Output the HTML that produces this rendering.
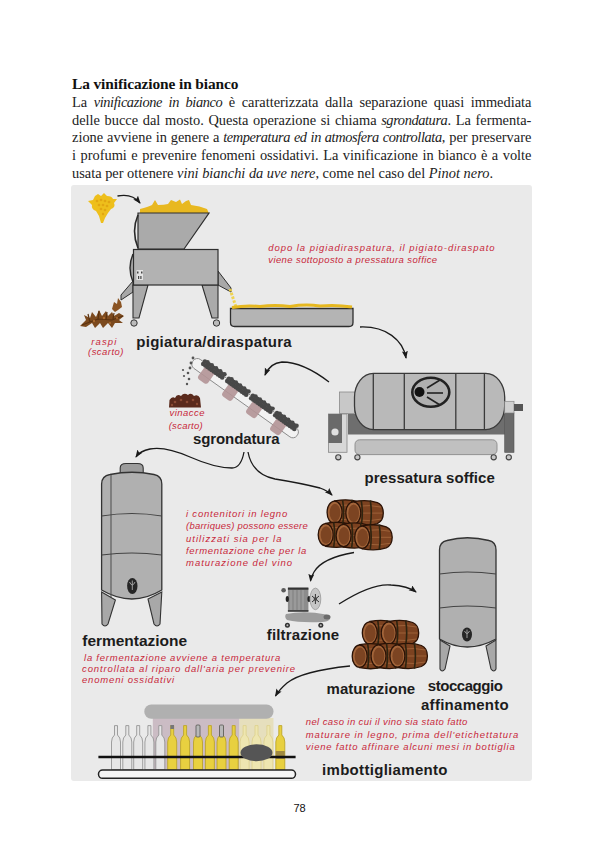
<!DOCTYPE html>
<html><head><meta charset="utf-8">
<style>
html,body{margin:0;padding:0;background:#fff;}
body{width:603px;height:851px;position:relative;overflow:hidden;font-family:"Liberation Serif",serif;color:#111;}
.t{position:absolute;white-space:nowrap;line-height:1;}
.p{position:absolute;left:72px;width:459.5px;display:flex;justify-content:space-between;font-size:14.4px;line-height:1;color:#222;}
#box{position:absolute;left:71px;top:185px;width:460.5px;height:596px;background:#eaeaea;border-radius:3px;}
svg{position:absolute;left:0;top:0;}
.p i{letter-spacing:-0.4px;}
</style></head><body>
<div id="box"></div>
<svg width="603" height="851" viewBox="0 0 603 851">
<defs>
  <marker id="ah" markerWidth="10" markerHeight="10" refX="7" refY="3" orient="auto" markerUnits="userSpaceOnUse">
    <path d="M0,0 L8,3 L0,6 L1.5,3 Z" fill="#1a1a1a"/>
  </marker>
  <g id="barrel">
    <path d="M0,-11.5 Q14,-14 24,-10.5 Q30,-8 30,0 Q30,8 24,10.5 Q14,14 0,11.5 Z" fill="#7c4220" stroke="#2a1206" stroke-width="1.3"/>
    <path d="M6,-7 Q16,-8.5 28,-6 M6,0 L29,0 M6,7 Q16,8.5 28,6" fill="none" stroke="#a0643a" stroke-width="0.9"/>
    <path d="M8,-12.3 Q10,0 8,12.3 M17,-12.6 Q19,0 17,12.6" fill="none" stroke="#2e2410" stroke-width="1.6"/>
    <ellipse cx="0" cy="0" rx="7.5" ry="11.2" fill="#a3653a" stroke="#2a1206" stroke-width="1.3"/>
    <ellipse cx="0.4" cy="0.2" rx="5.4" ry="8.8" fill="#7c4422"/>
  </g>
</defs>
<!-- arrows -->
<g fill="none" stroke="#1a1a1a" stroke-width="1.3">
  <path d="M117.5,196 Q132,193 140,203" marker-end="url(#ah)"/>
  <path d="M360,327 C386,326 403,340 406,358" marker-end="url(#ah)"/>
  <path d="M329,382 Q303,362 282,362 Q270,363 265,375" marker-end="url(#ah)"/>
  <path d="M244,452 Q241,468 232,468 Q215,468 190,457 Q165,446 150,449 Q140,451 136,457" marker-end="url(#ah)"/>
  <path d="M248,452 Q252,474 275,479 Q300,483 320,488 Q328,491 332,495" marker-end="url(#ah)"/>
  <path d="M354,552.5 Q322,558 314,572 Q311,577 310.5,581" marker-end="url(#ah)"/>
  <path d="M339,604 Q372,583 391,585 Q408,586 416,592" marker-end="url(#ah)"/>
  <path d="M350,666 Q302,671 287,683 Q279,690 275.5,696" marker-end="url(#ah)"/>
</g>
<!-- grapes -->
<path d="M95,196 L98,194 L101,196 L104,193 L107,196 Q112,196 113,199 L117,199 L114,203 Q116,207 111,209 L108,213 L105,218 L103,223 L101,223 L99,216 L96,211 Q91,209 92,205 L88,201 L93,200 Z" fill="#eebf1c"/>
<g fill="#e0a010" opacity="0.8">
  <circle cx="97" cy="201" r="1.3"/><circle cx="101" cy="200" r="1.3"/><circle cx="105" cy="201" r="1.3"/><circle cx="109" cy="202" r="1.3"/>
  <circle cx="99" cy="205" r="1.3"/><circle cx="103" cy="205" r="1.3"/><circle cx="107" cy="206" r="1.3"/>
  <circle cx="101" cy="209" r="1.3"/><circle cx="105" cy="210" r="1.3"/><circle cx="103" cy="214" r="1.2"/>
</g>
<!-- crusher -->
<path d="M140,213.5 L140,209 Q148,207 152,205 L155,200 L158,205 Q164,205 168,204 L171,200 L176,202 L180,199.5 L182,204 L186,201 L189,200 L191,205 Q200,206 207,209 L209,213.5 Z" fill="#e8b820"/>
<path d="M138,213 L209,213 L184,249 L138,249 Z" fill="#aaaaaa" stroke="#2e2e2e" stroke-width="1.2"/>
<path d="M138,215 Q131,231 138,248" fill="none" stroke="#2a2a2a" stroke-width="1.6"/>
<path d="M133,281 L121,295 L121,300 L133,292 Z" fill="#a8a8a8" stroke="#2e2e2e" stroke-width="1"/>
<path d="M218,271 L231,288 L231,292 L218,285 Z" fill="#a8a8a8" stroke="#2e2e2e" stroke-width="1"/>
<path d="M133,285 L148,285 L139,318 L133,318 Z" fill="#aaaaaa" stroke="#2e2e2e" stroke-width="1.1"/>
<path d="M202,285 L218,285 L218,318 L212,318 Z" fill="#aaaaaa" stroke="#2e2e2e" stroke-width="1.1"/>
<rect x="133.5" y="249.5" width="84.5" height="35.5" fill="#b2b2b2" stroke="#2e2e2e" stroke-width="1.2"/>
<path d="M133,254 Q127,268 133,282" fill="#a0a0a0" stroke="#2a2a2a" stroke-width="1.4"/>
<rect x="136.5" y="270" width="6.5" height="10" fill="#e4e4e4"/><g fill="#444"><rect x="137" y="271.5" width="1.5" height="2"/><rect x="141" y="271.5" width="1.5" height="2"/><rect x="138" y="276" width="1.2" height="3"/><rect x="140.3" y="276" width="1.2" height="3"/></g>
<circle cx="134" cy="323" r="3.2" fill="#bbb" stroke="#333" stroke-width="1"/>
<circle cx="216.5" cy="323" r="3.2" fill="#bbb" stroke="#333" stroke-width="1"/>
<!-- stems -->
<path d="M80,326 L86,320 L84,315 L90,318 L92,312 L96,317 L99,310 L102,316 L106,311 L108,316 L112,312 L114,316 L119,313 L124,316 L119,320 L123,323 L115,323 L112,328 L108,323 L103,328 L100,323 L95,328 L92,323 L86,327 Z" fill="#7c4a1e"/>
<g stroke="#5a3210" stroke-width="1.2" fill="none">
  <path d="M82,325 L98,319 L112,320 L123,316"/>
  <path d="M90,322 L88,314 M98,320 L99,311 M106,320 L107,312 M113,319 L114,313"/>
</g>
<g fill="#a86a30"><circle cx="94" cy="321" r="1.2"/><circle cx="104" cy="318" r="1.2"/><circle cx="110" cy="323" r="1.1"/><circle cx="117" cy="318" r="1.1"/></g>
<path d="M112,309 L114,302 L117,304 L118,298 L121,302 L122,307 L118,310 L115,312 Z" fill="#8a5424"/>
<!-- juice stream -->
<path d="M230,289 Q233,298 236,307" fill="none" stroke="#f0d040" stroke-width="3" stroke-dasharray="2.5 1.5" opacity="0.9"/>
<!-- tray -->
<path d="M230.5,308.5 L353,308.5 L353,322.5 Q353,326.5 349,326.5 L234.5,326.5 Q230.5,326.5 230.5,322.5 Z" fill="#b4b4b4" stroke="#2e2e2e" stroke-width="1.3"/>
<path d="M232,307.5 Q246,305 260,306.5 Q275,304.5 290,306.5 Q305,304 320,306 Q336,304.5 352,307" fill="none" stroke="#e6b820" stroke-width="3"/>

<!-- sgrondatura conveyor -->
<g id="sgr">
<g transform="translate(193,361) rotate(35.5)"><rect x="0" y="-5.5" width="128" height="11" rx="5" fill="#f2f2f2" stroke="#8a8a8a" stroke-width="0.9"/></g>
<rect x="200.1" y="367.8" width="12" height="15" rx="3" transform="rotate(35.5 206.1 375.3)" fill="#b39496" opacity="0.9"/>
<rect x="224.2" y="384.9" width="12" height="15" rx="3" transform="rotate(35.5 230.2 392.4)" fill="#b39496" opacity="0.9"/>
<rect x="248.2" y="402.1" width="12" height="15" rx="3" transform="rotate(35.5 254.2 409.6)" fill="#b39496" opacity="0.9"/>
<rect x="272.2" y="419.2" width="12" height="15" rx="3" transform="rotate(35.5 278.2 426.7)" fill="#b39496" opacity="0.9"/>
<circle cx="203.2" cy="364.0" r="2.3" fill="#484848"/>
<circle cx="204.9" cy="361.5" r="2.2" fill="#484848"/>
<circle cx="205.3" cy="365.5" r="2.3" fill="#484848"/>
<circle cx="207.6" cy="362.2" r="2.2" fill="#484848"/>
<circle cx="207.4" cy="367.0" r="2.3" fill="#484848"/>
<circle cx="209.1" cy="364.5" r="2.2" fill="#484848"/>
<circle cx="209.5" cy="368.5" r="2.3" fill="#484848"/>
<circle cx="211.8" cy="365.2" r="2.2" fill="#484848"/>
<circle cx="211.6" cy="370.0" r="2.3" fill="#484848"/>
<circle cx="213.4" cy="367.6" r="2.2" fill="#484848"/>
<circle cx="213.8" cy="371.5" r="2.3" fill="#484848"/>
<circle cx="216.1" cy="368.3" r="2.2" fill="#484848"/>
<circle cx="215.9" cy="373.0" r="2.3" fill="#484848"/>
<circle cx="217.6" cy="370.6" r="2.2" fill="#484848"/>
<circle cx="218.0" cy="374.5" r="2.3" fill="#484848"/>
<circle cx="220.3" cy="371.3" r="2.2" fill="#484848"/>
<circle cx="220.1" cy="376.0" r="2.3" fill="#484848"/>
<circle cx="221.8" cy="373.6" r="2.2" fill="#484848"/>
<circle cx="222.2" cy="377.5" r="2.3" fill="#484848"/>
<circle cx="224.5" cy="374.3" r="2.2" fill="#484848"/>
<circle cx="227.2" cy="381.1" r="2.3" fill="#484848"/>
<circle cx="228.9" cy="378.6" r="2.2" fill="#484848"/>
<circle cx="229.3" cy="382.6" r="2.3" fill="#484848"/>
<circle cx="231.6" cy="379.3" r="2.2" fill="#484848"/>
<circle cx="231.4" cy="384.1" r="2.3" fill="#484848"/>
<circle cx="233.2" cy="381.7" r="2.2" fill="#484848"/>
<circle cx="233.5" cy="385.6" r="2.3" fill="#484848"/>
<circle cx="235.9" cy="382.4" r="2.2" fill="#484848"/>
<circle cx="235.7" cy="387.1" r="2.3" fill="#484848"/>
<circle cx="237.4" cy="384.7" r="2.2" fill="#484848"/>
<circle cx="237.8" cy="388.6" r="2.3" fill="#484848"/>
<circle cx="240.1" cy="385.4" r="2.2" fill="#484848"/>
<circle cx="239.9" cy="390.1" r="2.3" fill="#484848"/>
<circle cx="241.6" cy="387.7" r="2.2" fill="#484848"/>
<circle cx="242.0" cy="391.7" r="2.3" fill="#484848"/>
<circle cx="244.3" cy="388.4" r="2.2" fill="#484848"/>
<circle cx="244.1" cy="393.2" r="2.3" fill="#484848"/>
<circle cx="245.9" cy="390.7" r="2.2" fill="#484848"/>
<circle cx="246.2" cy="394.7" r="2.3" fill="#484848"/>
<circle cx="248.6" cy="391.4" r="2.2" fill="#484848"/>
<circle cx="251.2" cy="398.2" r="2.3" fill="#484848"/>
<circle cx="252.9" cy="395.8" r="2.2" fill="#484848"/>
<circle cx="253.3" cy="399.7" r="2.3" fill="#484848"/>
<circle cx="255.6" cy="396.5" r="2.2" fill="#484848"/>
<circle cx="255.4" cy="401.2" r="2.3" fill="#484848"/>
<circle cx="257.2" cy="398.8" r="2.2" fill="#484848"/>
<circle cx="257.6" cy="402.7" r="2.3" fill="#484848"/>
<circle cx="259.9" cy="399.5" r="2.2" fill="#484848"/>
<circle cx="259.7" cy="404.3" r="2.3" fill="#484848"/>
<circle cx="261.4" cy="401.8" r="2.2" fill="#484848"/>
<circle cx="261.8" cy="405.8" r="2.3" fill="#484848"/>
<circle cx="264.1" cy="402.5" r="2.2" fill="#484848"/>
<circle cx="263.9" cy="407.3" r="2.3" fill="#484848"/>
<circle cx="265.6" cy="404.8" r="2.2" fill="#484848"/>
<circle cx="266.0" cy="408.8" r="2.3" fill="#484848"/>
<circle cx="268.3" cy="405.5" r="2.2" fill="#484848"/>
<circle cx="268.1" cy="410.3" r="2.3" fill="#484848"/>
<circle cx="269.9" cy="407.9" r="2.2" fill="#484848"/>
<circle cx="270.3" cy="411.8" r="2.3" fill="#484848"/>
<circle cx="272.6" cy="408.6" r="2.2" fill="#484848"/>
<circle cx="275.2" cy="415.3" r="2.3" fill="#484848"/>
<circle cx="277.0" cy="412.9" r="2.2" fill="#484848"/>
<circle cx="277.3" cy="416.9" r="2.3" fill="#484848"/>
<circle cx="279.7" cy="413.6" r="2.2" fill="#484848"/>
<circle cx="279.5" cy="418.4" r="2.3" fill="#484848"/>
<circle cx="281.2" cy="415.9" r="2.2" fill="#484848"/>
<circle cx="281.6" cy="419.9" r="2.3" fill="#484848"/>
<circle cx="283.9" cy="416.6" r="2.2" fill="#484848"/>
<circle cx="283.7" cy="421.4" r="2.3" fill="#484848"/>
<circle cx="285.4" cy="418.9" r="2.2" fill="#484848"/>
<circle cx="285.8" cy="422.9" r="2.3" fill="#484848"/>
<circle cx="288.1" cy="419.6" r="2.2" fill="#484848"/>
<circle cx="287.9" cy="424.4" r="2.3" fill="#484848"/>
<circle cx="289.7" cy="422.0" r="2.2" fill="#484848"/>
<circle cx="290.0" cy="425.9" r="2.3" fill="#484848"/>
<circle cx="292.4" cy="422.7" r="2.2" fill="#484848"/>
<circle cx="292.2" cy="427.4" r="2.3" fill="#484848"/>
<circle cx="293.9" cy="425.0" r="2.2" fill="#484848"/>
<circle cx="294.3" cy="428.9" r="2.3" fill="#484848"/>
<circle cx="296.6" cy="425.7" r="2.2" fill="#484848"/>
</g>
<g fill="#555">
  <circle cx="193" cy="358" r="1.4"/><circle cx="191" cy="363" r="1.4"/><circle cx="190" cy="368" r="1.4"/>
  <circle cx="188" cy="373" r="1.3"/><circle cx="189" cy="379" r="1.3"/><circle cx="187" cy="384" r="1.2"/>
  <circle cx="183" cy="370" r="1.1"/><circle cx="184" cy="376" r="1.1"/>
</g>
<!-- vinacce pile -->
<path d="M169,407.5 L169.5,400 Q172,396 175,398 Q177,393 181,396 Q184,392 188,395 Q191,392 194,396 Q198,394 200,398 L201,407.5 Z" fill="#5a2a1c"/>
<g fill="#8a4a34"><circle cx="175" cy="402" r="1.3"/><circle cx="181" cy="400" r="1.3"/><circle cx="187" cy="402" r="1.3"/><circle cx="193" cy="400" r="1.3"/><circle cx="197" cy="404" r="1.2"/><circle cx="172" cy="405" r="1.2"/></g>

<!-- press -->
<rect x="339.4" y="392" width="15.1" height="21.4" fill="#c8c8c8" stroke="#8a8a8a" stroke-width="0.8"/>
<path d="M348,414 L514,414 L514,434.4 L348,434.4 Z" fill="#6e6e6e"/>
<rect x="354.5" y="373.3" width="150.2" height="56.4" rx="19" ry="24" fill="#b9b9b9" stroke="#3a3a3a" stroke-width="1.3"/>
<g stroke="#3a3a3a" stroke-width="1.3">
  <line x1="373.3" y1="373.5" x2="373.3" y2="429.5"/>
  <line x1="404.3" y1="373.5" x2="404.3" y2="429.5"/>
  <line x1="455.8" y1="373.5" x2="455.8" y2="429.5"/>
  <line x1="484.4" y1="373.5" x2="484.4" y2="429.5"/>
</g>
<ellipse cx="430.8" cy="392.2" rx="18.5" ry="14.5" fill="#b0b0b0" stroke="#222" stroke-width="2.6"/>
<circle cx="419.5" cy="392" r="5" fill="#111"/>
<g stroke="#222" stroke-width="1.6"><line x1="427" y1="393" x2="443" y2="393"/><line x1="427" y1="388" x2="440" y2="380"/><line x1="427" y1="397" x2="440" y2="405"/></g>
<rect x="328.4" y="414" width="18.6" height="38.3" fill="#d8d8d8" stroke="#888" stroke-width="0.8"/>
<rect x="328.4" y="414" width="13.6" height="29" fill="#6a6a6a"/>
<circle cx="335" cy="432" r="3.6" fill="#e0e0e0"/>
<rect x="504.7" y="413" width="9.3" height="39.4" fill="#6a6a6a" stroke="#555" stroke-width="0.6"/>
<rect x="504.7" y="401.3" width="9.3" height="11.7" fill="#d0d0d0" stroke="#888" stroke-width="0.7"/>
<rect x="514" y="404" width="9" height="7" fill="#555"/>
<rect x="355" y="439.8" width="142" height="14.8" rx="4.5" fill="#c0c0c0" stroke="#8a8a8a" stroke-width="0.9"/>
<g fill="#c8c8c8" stroke="#444" stroke-width="1.1">
  <circle cx="338.3" cy="457.3" r="2.6"/><circle cx="357.4" cy="457.3" r="2.6"/>
  <circle cx="493.7" cy="457.3" r="2.6"/><circle cx="508.8" cy="457.3" r="2.6"/>
</g>
<!-- fermentation tank -->
<path d="M120.2,474 L120.2,468 Q120.2,463.5 126,463.5 L137.5,463.5 Q143.2,463.5 143.2,468 L143.2,474 Z" fill="#9c9c9c" stroke="#333" stroke-width="1.1"/>
<path d="M101.6,484 Q101.6,476 110,474.5 Q132,470 154,474.5 Q161.8,476 161.8,484 L161.8,590 Q132,608 101.6,590 Z" fill="#b0b0b0" stroke="#333" stroke-width="1.3"/>
<line x1="111" y1="475" x2="111" y2="597" stroke="#555" stroke-width="1.1"/>
<path d="M101.6,516 Q132,511 161.8,516 M101.6,555 Q132,551 161.8,555" fill="none" stroke="#444" stroke-width="1.1"/>
<path d="M101.6,592 L115.4,600 L108,624 Q105,628 102,624 Z" fill="#a8a8a8" stroke="#333" stroke-width="1.1"/>
<path d="M161.8,592 L148,599 L154,624 Q157,628 160,624 Z" fill="#a8a8a8" stroke="#333" stroke-width="1.1"/>
<ellipse cx="132.3" cy="586" rx="5.2" ry="8" fill="#262626"/>
<g stroke="#aaa" stroke-width="0.9" fill="none"><path d="M129.5,582 Q132.3,588 135,582 M132.3,580.5 L132.3,590"/></g>

<!-- barrels stack 1 -->
<use href="#barrel" x="334.6" y="512.4"/>
<use href="#barrel" x="353.3" y="513.1"/>
<use href="#barrel" x="325.7" y="534.8"/>
<use href="#barrel" x="343.6" y="535.5"/>
<use href="#barrel" x="362.2" y="537.3"/>

<!-- filtration -->
<path d="M286,614 Q305,610.5 326,614.5 Q331,616 330,619 Q328,622 322,622 Q300,623 287,620 Q284,617 286,614 Z" fill="#9c9c9c"/>
<ellipse cx="327" cy="617" rx="3.5" ry="2.5" fill="#6a6a6a"/>
<rect x="287.9" y="588.1" width="20.5" height="23.2" fill="#8c8c8c"/>
<g stroke="#a8a8a8" stroke-width="1"><line x1="291" y1="590" x2="291" y2="610"/><line x1="295" y1="590" x2="295" y2="610"/><line x1="299" y1="590" x2="299" y2="610"/><line x1="303" y1="590" x2="303" y2="610"/></g>
<rect x="287.9" y="587.5" width="20.5" height="2.2" fill="#333"/>
<rect x="287.9" y="610" width="20.5" height="1.8" fill="#444"/>
<ellipse cx="287.3" cy="599" rx="1.6" ry="3" fill="#222"/>
<ellipse cx="309" cy="599" rx="1.6" ry="3" fill="#222"/>
<circle cx="283.6" cy="590.2" r="2.3" fill="#5a5a5a"/>
<ellipse cx="315.4" cy="598.9" rx="5.4" ry="10.8" fill="#c6c6c6" stroke="#999" stroke-width="0.8"/>
<g stroke="#333" stroke-width="1"><line x1="312" y1="596" x2="319" y2="602"/><line x1="319" y1="596" x2="312" y2="602"/><line x1="315.4" y1="594" x2="315.4" y2="604"/></g>
<circle cx="315.4" cy="599" r="1.8" fill="#444"/>
<g fill="#333"><circle cx="287.4" cy="625.3" r="2.5"/><circle cx="320.8" cy="625.3" r="2.5"/></g>
<g fill="#bbb"><circle cx="287.4" cy="625.3" r="1"/><circle cx="320.8" cy="625.3" r="1"/></g>
<!-- barrels stack 2 -->
<use href="#barrel" x="369.8" y="633"/>
<use href="#barrel" x="388.7" y="633"/>
<use href="#barrel" x="359.7" y="656.2"/>
<use href="#barrel" x="378.5" y="656"/>
<use href="#barrel" x="397.4" y="656"/>

<!-- storage tank -->
<path d="M439.5,550 Q439.5,542 447,540.5 Q467,535 489,540.5 Q496,542 496,550 L496,639 Q467,655 439.5,639 Z" fill="#b0b0b0" stroke="#333" stroke-width="1.3"/>
<path d="M439.5,574 Q467,570 496,574 M439.5,608 Q467,604 496,608" fill="none" stroke="#444" stroke-width="1.1"/>
<path d="M440,640 L450,646 L445,669 Q442,673 440,669 Z" fill="#a8a8a8" stroke="#333" stroke-width="1.1"/>
<path d="M496,640 L486,646 L491,669 Q494,673 496,669 Z" fill="#a8a8a8" stroke="#333" stroke-width="1.1"/>
<ellipse cx="467" cy="634.5" rx="5" ry="7" fill="#262626"/>
<g stroke="#aaa" stroke-width="0.9" fill="none"><path d="M464.5,631 Q467,636 469.5,631 M467,629.5 L467,638"/></g>

<!-- bottling -->
<rect x="152.8" y="718" width="86.7" height="53" fill="#cbbcc4"/>
<rect x="239.5" y="718" width="34" height="53" fill="#e6dfbd"/>
<rect x="144.3" y="704.5" width="129.2" height="14.3" rx="7" fill="#b0b0b0"/>
<g id="bottles">
<path d="M114.5,725.6 L117.5,725.6 L117.5,735 Q120.5,737.5 120.5,742 L120.5,769.8 L111.5,769.8 L111.5,742 Q111.5,737.5 114.5,735 Z" fill="#e6e6e6" stroke="#8a8a8a" stroke-width="0.8"/>
<path d="M125.8,725.6 L128.8,725.6 L128.8,735 Q131.8,737.5 131.8,742 L131.8,769.8 L122.8,769.8 L122.8,742 Q122.8,737.5 125.8,735 Z" fill="#e6e6e6" stroke="#8a8a8a" stroke-width="0.8"/>
<path d="M136.7,725.6 L139.7,725.6 L139.7,735 Q142.7,737.5 142.7,742 L142.7,769.8 L133.7,769.8 L133.7,742 Q133.7,737.5 136.7,735 Z" fill="#e6e6e6" stroke="#8a8a8a" stroke-width="0.8"/>
<path d="M147.9,725.6 L150.9,725.6 L150.9,735 Q153.9,737.5 153.9,742 L153.9,769.8 L144.9,769.8 L144.9,742 Q144.9,737.5 147.9,735 Z" fill="#e6e6e6" stroke="#8a8a8a" stroke-width="0.8"/>
<path d="M158.8,725.6 L161.8,725.6 L161.8,735 Q164.8,737.5 164.8,742 L164.8,769.8 L155.8,769.8 L155.8,742 Q155.8,737.5 158.8,735 Z" fill="#e6e6e6" stroke="#8a8a8a" stroke-width="0.8"/>
<path d="M170.7,725.6 L173.7,725.6 L173.7,735 Q176.7,737.5 176.7,742 L176.7,769.8 L167.7,769.8 L167.7,742 Q167.7,737.5 170.7,735 Z" fill="#e8d040" stroke="#b8a020" stroke-width="0.8"/>
<rect x="170.39999999999998" y="725" width="3.6" height="4" fill="#777"/>
<path d="M183.6,725.6 L186.6,725.6 L186.6,735 Q189.6,737.5 189.6,742 L189.6,769.8 L180.6,769.8 L180.6,742 Q180.6,737.5 183.6,735 Z" fill="#e8d040" stroke="#b8a020" stroke-width="0.8"/>
<path d="M196.5,725.6 L199.5,725.6 L199.5,735 Q202.5,737.5 202.5,742 L202.5,769.8 L193.5,769.8 L193.5,742 Q193.5,737.5 196.5,735 Z" fill="#e8d040" stroke="#b8a020" stroke-width="0.8"/>
<rect x="196" y="725" width="4" height="12" rx="1" fill="#b8b8b8" stroke="#555" stroke-width="0.8"/>
<path d="M208.4,725.6 L211.4,725.6 L211.4,735 Q214.4,737.5 214.4,742 L214.4,769.8 L205.4,769.8 L205.4,742 Q205.4,737.5 208.4,735 Z" fill="#e8d040" stroke="#b8a020" stroke-width="0.8"/>
<path d="M220.0,725.6 L223.0,725.6 L223.0,735 Q226.0,737.5 226.0,742 L226.0,769.8 L217.0,769.8 L217.0,742 Q217.0,737.5 220.0,735 Z" fill="#e8d040" stroke="#b8a020" stroke-width="0.8"/>
<rect x="219.5" y="725" width="4" height="12" rx="1" fill="#b8b8b8" stroke="#555" stroke-width="0.8"/>
<path d="M232.2,725.6 L235.2,725.6 L235.2,735 Q238.2,737.5 238.2,742 L238.2,769.8 L229.2,769.8 L229.2,742 Q229.2,737.5 232.2,735 Z" fill="#e8d040" stroke="#b8a020" stroke-width="0.8"/>
<path d="M243.1,725.6 L246.1,725.6 L246.1,735 Q249.1,737.5 249.1,742 L249.1,769.8 L240.1,769.8 L240.1,742 Q240.1,737.5 243.1,735 Z" fill="#eee6b0" stroke="#dccf8a" stroke-width="0.8"/>
<path d="M255.0,725.6 L258.0,725.6 L258.0,735 Q261.0,737.5 261.0,742 L261.0,769.8 L252.0,769.8 L252.0,742 Q252.0,737.5 255.0,735 Z" fill="#eee6b0" stroke="#dccf8a" stroke-width="0.8"/>
<path d="M266.9,725.6 L269.9,725.6 L269.9,735 Q272.9,737.5 272.9,742 L272.9,769.8 L263.9,769.8 L263.9,742 Q263.9,737.5 266.9,735 Z" fill="#eee6b0" stroke="#dccf8a" stroke-width="0.8"/>
<path d="M278.8,725.6 L281.8,725.6 L281.8,735 Q284.8,737.5 284.8,742 L284.8,769.8 L275.8,769.8 L275.8,742 Q275.8,737.5 278.8,735 Z" fill="#e8d040" stroke="#b8a020" stroke-width="0.8"/>
<rect x="275.8" y="751" width="9" height="8" fill="#a08a40"/>
</g>
<line x1="98.4" y1="757" x2="295.6" y2="757" stroke="#111" stroke-width="2.4"/>
<rect x="98.5" y="770" width="197" height="8.3" rx="4.1" fill="#f4f4f4" stroke="#222" stroke-width="1.5"/>
<ellipse cx="256.5" cy="752.8" rx="16" ry="8.5" fill="#555"/>

<!-- box white notch? -->
</svg>
<div class="p" style="top:94.97px"><span>La</span><span><i>vinificazione</i></span><span><i>in</i></span><span><i>bianco</i></span><span>è</span><span>caratterizzata</span><span>dalla</span><span>separazione</span><span>quasi</span><span>immediata</span></div>
<div class="p" style="top:112.57px"><span>delle</span><span>bucce</span><span>dal</span><span>mosto.</span><span>Questa</span><span>operazione</span><span>si</span><span>chiama</span><span><i>sgrondatura</i>.</span><span>La</span><span>fermenta-</span></div>
<div class="p" style="top:130.47px"><span>zione</span><span>avviene</span><span>in</span><span>genere</span><span>a</span><span><i>temperatura</i></span><span><i>ed</i></span><span><i>in</i></span><span><i>atmosfera</i></span><span><i>controllata</i>,</span><span>per</span><span>preservare</span></div>
<div class="p" style="top:148.37px"><span>i</span><span>profumi</span><span>e</span><span>prevenire</span><span>fenomeni</span><span>ossidativi.</span><span>La</span><span>vinificazione</span><span>in</span><span>bianco</span><span>è</span><span>a</span><span>volte</span></div>
<div class="t" style="left:72px;top:165.77px;font-size:14.4px;color:#222;word-spacing:-0.025px">usata per ottenere <i>vini bianchi da uve nere</i>, come nel caso del <i>Pinot nero</i>.</div>
<div class="t" id="t0" style="left:72.00px;top:75.58px;font-family:'Liberation Serif', serif;font-size:15.4px;font-weight:bold;font-style:normal;color:#111;letter-spacing:-0.096px">La vinificazione in bianco</div>
<div class="t" id="t1" style="left:136.20px;top:333.93px;font-family:'Liberation Sans', sans-serif;font-size:15px;font-weight:bold;font-style:normal;color:#1c1c1c;letter-spacing:0.314px">pigiatura/diraspatura</div>
<div class="t" id="t2" style="left:193.00px;top:431.23px;font-family:'Liberation Sans', sans-serif;font-size:15px;font-weight:bold;font-style:normal;color:#1c1c1c;letter-spacing:-0.101px">sgrondatura</div>
<div class="t" id="t3" style="left:364.50px;top:470.32px;font-family:'Liberation Sans', sans-serif;font-size:15px;font-weight:bold;font-style:normal;color:#1c1c1c;letter-spacing:0.059px">pressatura soffice</div>
<div class="t" id="t4" style="left:82.30px;top:632.97px;font-family:'Liberation Sans', sans-serif;font-size:15.5px;font-weight:bold;font-style:normal;color:#1c1c1c;letter-spacing:-0.030px">fermentazione</div>
<div class="t" id="t5" style="left:266.80px;top:626.92px;font-family:'Liberation Sans', sans-serif;font-size:15px;font-weight:bold;font-style:normal;color:#1c1c1c;letter-spacing:0.151px">filtrazione</div>
<div class="t" id="t6" style="left:326.60px;top:680.62px;font-family:'Liberation Sans', sans-serif;font-size:15px;font-weight:bold;font-style:normal;color:#1c1c1c;letter-spacing:0.022px">maturazione</div>
<div class="t" id="t7" style="left:427.80px;top:678.02px;font-family:'Liberation Sans', sans-serif;font-size:15px;font-weight:bold;font-style:normal;color:#1c1c1c;letter-spacing:-0.459px">stoccaggio</div>
<div class="t" id="t8" style="left:421.00px;top:696.92px;font-family:'Liberation Sans', sans-serif;font-size:15px;font-weight:bold;font-style:normal;color:#1c1c1c;letter-spacing:0.271px">affinamento</div>
<div class="t" id="t9" style="left:322.00px;top:762.12px;font-family:'Liberation Sans', sans-serif;font-size:15px;font-weight:bold;font-style:normal;color:#1c1c1c;letter-spacing:0.311px">imbottigliamento</div>
<div class="t" id="t10" style="left:268.30px;top:242.50px;font-family:'Liberation Sans', sans-serif;font-size:9.5px;font-weight:normal;font-style:italic;color:#c8283a;letter-spacing:0.944px">dopo la pigiadiraspatura, il pigiato-diraspato</div>
<div class="t" id="t11" style="left:268.30px;top:254.90px;font-family:'Liberation Sans', sans-serif;font-size:9.5px;font-weight:normal;font-style:italic;color:#c8283a;letter-spacing:0.391px">viene sottoposto a pressatura soffice</div>
<div class="t" id="t12" style="left:91.20px;top:336.60px;font-family:'Liberation Sans', sans-serif;font-size:9.5px;font-weight:normal;font-style:italic;color:#c8283a;letter-spacing:1.161px">raspi</div>
<div class="t" id="t13" style="left:88.00px;top:347.10px;font-family:'Liberation Sans', sans-serif;font-size:9.5px;font-weight:normal;font-style:italic;color:#c8283a;letter-spacing:0.475px">(scarto)</div>
<div class="t" id="t14" style="left:169.60px;top:408.40px;font-family:'Liberation Sans', sans-serif;font-size:9.5px;font-weight:normal;font-style:italic;color:#c8283a;letter-spacing:0.454px">vinacce</div>
<div class="t" id="t15" style="left:168.70px;top:421.20px;font-family:'Liberation Sans', sans-serif;font-size:9.5px;font-weight:normal;font-style:italic;color:#c8283a;letter-spacing:0.262px">(scarto)</div>
<div class="t" id="t16" style="left:186.00px;top:509.00px;font-family:'Liberation Sans', sans-serif;font-size:9.5px;font-weight:normal;font-style:italic;color:#c8283a;letter-spacing:0.795px">i contenitori in legno</div>
<div class="t" id="t17" style="left:186.00px;top:521.30px;font-family:'Liberation Sans', sans-serif;font-size:9.5px;font-weight:normal;font-style:italic;color:#c8283a;letter-spacing:0.244px">(barriques) possono essere</div>
<div class="t" id="t18" style="left:186.00px;top:533.60px;font-family:'Liberation Sans', sans-serif;font-size:9.5px;font-weight:normal;font-style:italic;color:#c8283a;letter-spacing:1.025px">utilizzati sia per la</div>
<div class="t" id="t19" style="left:186.00px;top:545.90px;font-family:'Liberation Sans', sans-serif;font-size:9.5px;font-weight:normal;font-style:italic;color:#c8283a;letter-spacing:0.681px">fermentazione che per la</div>
<div class="t" id="t20" style="left:186.00px;top:558.20px;font-family:'Liberation Sans', sans-serif;font-size:9.5px;font-weight:normal;font-style:italic;color:#c8283a;letter-spacing:0.966px">maturazione del vino</div>
<div class="t" id="t21" style="left:84.00px;top:652.90px;font-family:'Liberation Sans', sans-serif;font-size:9.5px;font-weight:normal;font-style:italic;color:#c8283a;letter-spacing:0.779px">la fermentazione avviene a temperatura</div>
<div class="t" id="t22" style="left:82.00px;top:664.10px;font-family:'Liberation Sans', sans-serif;font-size:9.5px;font-weight:normal;font-style:italic;color:#c8283a;letter-spacing:0.878px">controllata al riparo dall'aria per prevenire</div>
<div class="t" id="t23" style="left:82.00px;top:675.30px;font-family:'Liberation Sans', sans-serif;font-size:9.5px;font-weight:normal;font-style:italic;color:#c8283a;letter-spacing:0.825px">enomeni ossidativi</div>
<div class="t" id="t24" style="left:305.70px;top:717.40px;font-family:'Liberation Sans', sans-serif;font-size:9.5px;font-weight:normal;font-style:italic;color:#c8283a;letter-spacing:0.406px">nel caso in cui il vino sia stato fatto</div>
<div class="t" id="t25" style="left:305.70px;top:729.60px;font-family:'Liberation Sans', sans-serif;font-size:9.5px;font-weight:normal;font-style:italic;color:#c8283a;letter-spacing:0.909px">maturare in legno, prima dell'etichettatura</div>
<div class="t" id="t26" style="left:305.70px;top:741.80px;font-family:'Liberation Sans', sans-serif;font-size:9.5px;font-weight:normal;font-style:italic;color:#c8283a;letter-spacing:0.801px">viene fatto affinare alcuni mesi in bottiglia</div>
<div class="t" id="t27" style="left:293.50px;top:803.04px;font-family:'Liberation Sans', sans-serif;font-size:11px;font-weight:normal;font-style:normal;color:#111;letter-spacing:-0.125px">78</div>
</body></html>
